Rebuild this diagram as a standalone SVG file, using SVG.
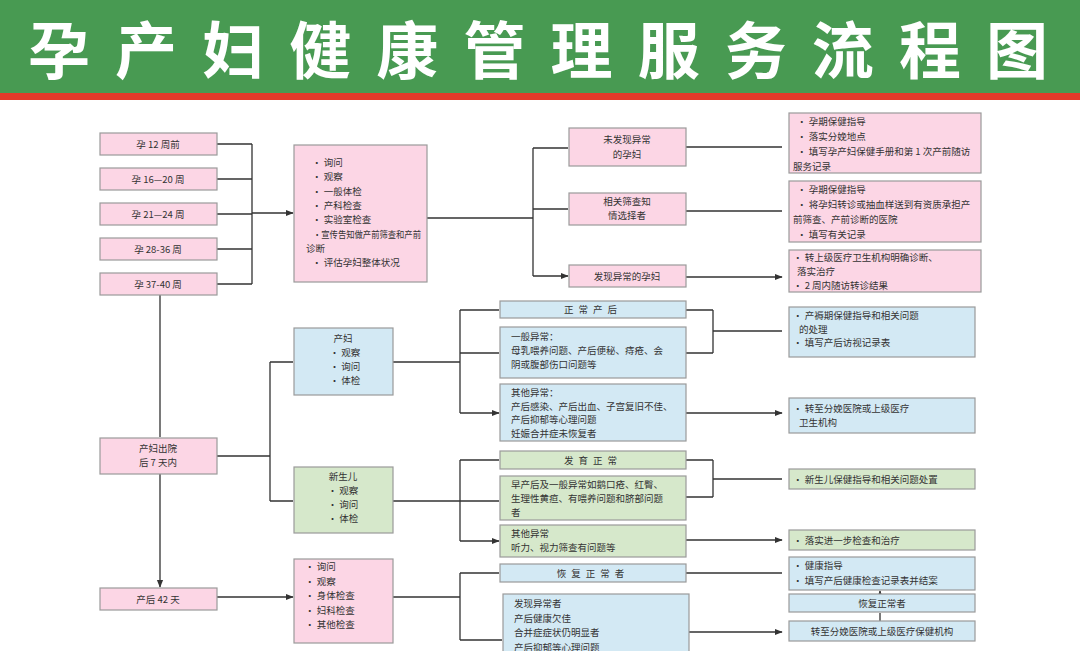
<svg xmlns="http://www.w3.org/2000/svg" width="1080" height="651" viewBox="0 0 1080 651">
<style>
text{font-family:"Noto Sans CJK SC","Noto Sans",sans-serif;font-size:9.5px;fill:#333}
.c{text-anchor:middle}
.p{fill:#fcd6e5;stroke:#9a9a9a;stroke-width:1.2}
.b{fill:#d3e9f4;stroke:#9a9a9a;stroke-width:1.2}
.g{fill:#d6e8cb;stroke:#9a9a9a;stroke-width:1.2}
.l{fill:none;stroke:#333;stroke-width:1.3}
</style>
<defs><marker id="a" viewBox="0 0 10 10" refX="9" refY="5" markerWidth="6" markerHeight="6" orient="auto"><path d="M0,1 L10,5 L0,9z" fill="#333"/></marker></defs>
<rect width="1080" height="651" fill="#fff"/>
<rect width="1080" height="93" fill="#489a52"/>
<rect y="93" width="1080" height="7" fill="#e23a2a"/>
<text x="538" y="74" class="c" style="font-size:62px;font-weight:bold;fill:#fff" textLength="1020" lengthAdjust="spacing">孕产妇健康管理服务流程图</text>

<g id="connectors" class="l">
<path d="M217,144H252M217,179H252M217,214H252M217,249H252M217,284H252M252,144V284"/>
<path d="M252,213H293" marker-end="url(#a)"/>
<path d="M427,218H533M533,148V276"/>
<path d="M533,148H568M533,209H568M533,276H568" marker-end="url(#a)"/>
<path d="M686,147H782M686,211H782M686,277H782" marker-end="url(#a)"/>
<path d="M160,295V437M160,474V587" marker-end="url(#a)"/>
<path d="M217,456H270M270,362V501"/>
<path d="M270,362H293M270,501H293M217,597H293" marker-end="url(#a)"/>
<path d="M393,362H460M460,310V413"/>
<path d="M460,310H499M460,353H499M460,413H499" marker-end="url(#a)"/>
<path d="M686,310H713M686,353H713M713,310V353"/>
<path d="M713,331H782M686,413H782" marker-end="url(#a)"/>
<path d="M393,501H460M460,460V541"/>
<path d="M460,460H499M460,501H499M460,541H499" marker-end="url(#a)"/>
<path d="M686,460H713M686,497H713M713,460V497"/>
<path d="M713,479H782M686,540H782" marker-end="url(#a)"/>
<path d="M393,597H460M460,573V640"/>
<path d="M460,573H499M460,640H502M686,573H782M689,632H782" marker-end="url(#a)"/>
<path d="M880,621V613M880,594V591" marker-end="url(#a)"/>
</g>

<g id="n1"><rect class="p" x="100" y="133" width="117" height="22"/><text class="c" x="158" y="148">孕 12 周前</text></g>
<g id="n2"><rect class="p" x="100" y="168" width="117" height="22"/><text class="c" x="158" y="183">孕 16—20 周</text></g>
<g id="n3"><rect class="p" x="100" y="203" width="117" height="22"/><text class="c" x="158" y="218">孕 21—24 周</text></g>
<g id="n4"><rect class="p" x="100" y="238" width="117" height="22"/><text class="c" x="158" y="253">孕 28-36 周</text></g>
<g id="n5"><rect class="p" x="100" y="273" width="117" height="22"/><text class="c" x="158" y="288">孕 37-40 周</text></g>
<g id="n6"><rect class="p" x="294" y="145" width="133" height="137"/>
<text x="312" y="166"><tspan x="312">• 询问</tspan><tspan x="312" dy="14.3">• 观察</tspan><tspan x="312" dy="14.3">• 一般体检</tspan><tspan x="312" dy="14.3">• 产科检查</tspan><tspan x="312" dy="14.3">• 实验室检查</tspan><tspan x="313" dy="14.3" textLength="108" lengthAdjust="spacingAndGlyphs">•宣传告知做产前筛查和产前</tspan><tspan x="306" dy="14.3">诊断</tspan><tspan x="312" dy="14.3">• 评估孕妇整体状况</tspan></text></g>
<g id="n7"><rect class="p" x="569" y="128" width="117" height="38"/><text class="c" x="627" y="143">未发现异常<tspan x="627" dy="15">的孕妇</tspan></text></g>
<g id="n8"><rect class="p" x="569" y="193" width="117" height="32"/><text class="c" x="627" y="205">相关筛查知<tspan x="627" dy="14">情选择者</tspan></text></g>
<g id="n9"><rect class="p" x="569" y="265" width="117" height="22"/><text class="c" x="627" y="280">发现异常的孕妇</text></g>
<g id="n10"><rect class="p" x="789" y="113" width="192" height="60"/><text x="797" y="125"><tspan x="797">• 孕期保健指导</tspan><tspan x="797" dy="15">• 落实分娩地点</tspan><tspan x="797" dy="15">• 填写孕产妇保健手册和第 1 次产前随访</tspan><tspan x="793" dy="15">服务记录</tspan></text></g>
<g id="n11"><rect class="p" x="789" y="181" width="192" height="61"/><text x="797" y="193"><tspan x="797">• 孕期保健指导</tspan><tspan x="797" dy="15">• 将孕妇转诊或抽血样送到有资质承担产</tspan><tspan x="793" dy="15">前筛查、产前诊断的医院</tspan><tspan x="797" dy="15">• 填写有关记录</tspan></text></g>
<g id="n12"><rect class="p" x="789" y="250" width="192" height="42"/><text x="793" y="261"><tspan x="793">• 转上级医疗卫生机构明确诊断、</tspan><tspan x="797" dy="14">落实治疗</tspan><tspan x="793" dy="14">•  2 周内随访转诊结果</tspan></text></g>

<g id="n13"><rect class="p" x="100" y="438" width="117" height="36"/><text class="c" x="158" y="452">产妇出院<tspan x="158" dy="14">后 7 天内</tspan></text></g>
<g id="n14"><rect class="p" x="100" y="588" width="117" height="22"/><text class="c" x="158" y="603">产后 42 天</text></g>

<g id="n15"><rect class="b" x="294" y="328" width="99" height="67"/><text class="c" x="343" y="342">产妇<tspan x="345" dy="14">• 观察</tspan><tspan x="345" dy="14">• 询问</tspan><tspan x="345" dy="14">• 体检</tspan></text></g>
<g id="n16"><rect class="b" x="500" y="301" width="186" height="17"/><text class="c" x="593" y="313" style="letter-spacing:5px">正常产后</text></g>
<g id="n17"><rect class="b" x="500" y="327" width="186" height="51"/><text x="511" y="340"><tspan x="511">一般异常：</tspan><tspan x="511" dy="14">母乳喂养问题、产后便秘、痔疮、会</tspan><tspan x="511" dy="14">阴或腹部伤口问题等</tspan></text></g>
<g id="n18"><rect class="b" x="500" y="384" width="186" height="57"/><text x="511" y="396"><tspan x="511">其他异常：</tspan><tspan x="511" dy="13.5">产后感染、产后出血、子宫复旧不佳、</tspan><tspan x="511" dy="13.5">产后抑郁等心理问题</tspan><tspan x="511" dy="13.5">妊娠合并症未恢复者</tspan></text></g>
<g id="n19"><rect class="b" x="789" y="307" width="186" height="50"/><text x="793" y="319"><tspan x="793">• 产褥期保健指导和相关问题</tspan><tspan x="799" dy="13.5">的处理</tspan><tspan x="793" dy="13.5">•  填写产后访视记录表</tspan></text></g>
<g id="n20"><rect class="b" x="789" y="398" width="186" height="35"/><text x="793" y="412"><tspan x="793">• 转至分娩医院或上级医疗</tspan><tspan x="799" dy="14">卫生机构</tspan></text></g>

<g id="n21"><rect class="g" x="294" y="467" width="99" height="66"/><text class="c" x="343" y="480">新生儿<tspan x="343" dy="14">• 观察</tspan><tspan x="343" dy="14">• 询问</tspan><tspan x="343" dy="14">• 体检</tspan></text></g>
<g id="n22"><rect class="g" x="500" y="451" width="186" height="18"/><text class="c" x="593" y="464" style="letter-spacing:5px">发育正常</text></g>
<g id="n23"><rect class="g" x="500" y="476" width="186" height="44"/><text x="511" y="488"><tspan x="511">早产后及一般异常如鹅口疮、红臀、</tspan><tspan x="511" dy="14">生理性黄疸、有喂养问题和脐部问题</tspan><tspan x="511" dy="14">者</tspan></text></g>
<g id="n24"><rect class="g" x="500" y="525" width="186" height="32"/><text x="511" y="537"><tspan x="511">其他异常</tspan><tspan x="511" dy="14">听力、视力筛查有问题等</tspan></text></g>
<g id="n25"><rect class="g" x="789" y="469" width="186" height="20"/><text x="793" y="483">• 新生儿保健指导和相关问题处置</text></g>
<g id="n26"><rect class="g" x="789" y="530" width="186" height="20"/><text x="793" y="544">• 落实进一步检查和治疗</text></g>

<g id="n27"><rect class="p" x="294" y="559" width="99" height="84"/><text x="305" y="570"><tspan x="305">• 询问</tspan><tspan x="305" dy="14.5">• 观察</tspan><tspan x="305" dy="14.5">• 身体检查</tspan><tspan x="305" dy="14.5">• 妇科检查</tspan><tspan x="305" dy="14.5">• 其他检查</tspan></text></g>
<g id="n28"><rect class="b" x="500" y="564" width="186" height="18"/><text class="c" x="593" y="577" style="letter-spacing:5px">恢复正常者</text></g>
<g id="n29"><rect class="b" x="503" y="594" width="186" height="70"/><text x="514" y="607"><tspan x="514">发现异常者</tspan><tspan x="514" dy="14.5">产后健康欠佳</tspan><tspan x="514" dy="14.5">合并症症状仍明显者</tspan><tspan x="514" dy="14.5">产后抑郁等心理问题</tspan></text></g>
<g id="n30"><rect class="b" x="789" y="557" width="186" height="33"/><text x="793" y="569"><tspan x="793">• 健康指导</tspan><tspan x="793" dy="15">• 填写产后健康检查记录表并结案</tspan></text></g>
<g id="n31"><rect class="b" x="789" y="594" width="186" height="18"/><text class="c" x="882" y="607">恢复正常者</text></g>
<g id="n32"><rect class="b" x="789" y="621" width="186" height="20"/><text class="c" x="882" y="635">转至分娩医院或上级医疗保健机构</text></g>
</svg>
